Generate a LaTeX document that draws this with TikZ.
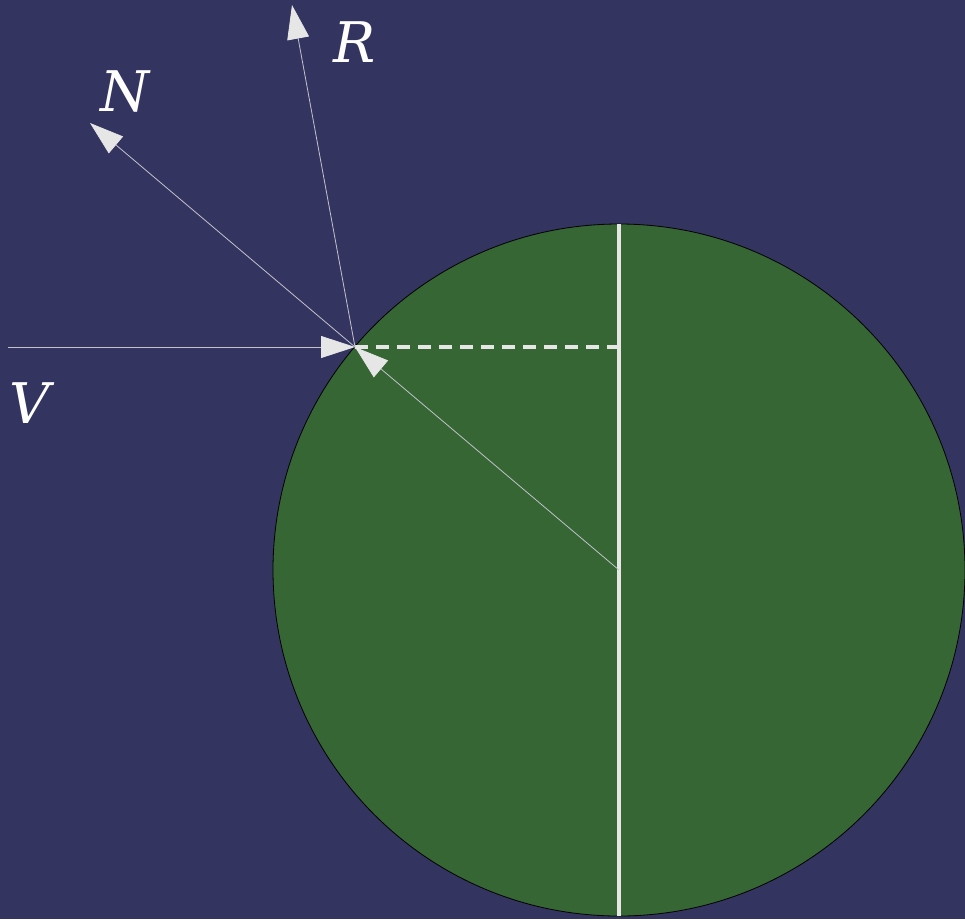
\documentclass[tikz,border=0pt]{standalone}
\usepackage{fontspec}
\newfontfamily\lblfont{DejaVu Serif}
\usetikzlibrary{arrows.meta}
\definecolor{bgblue}{RGB}{52,52,97}
\definecolor{ballgreen}{RGB}{53,102,52}
\definecolor{raygray}{RGB}{230,230,230}

\begin{document}
\begin{tikzpicture}[
        x=1pt, y=-1pt,
        ray/.style={
            draw=raygray!80!bgblue, line width=0.8pt,
            -{Triangle[length=34pt, width=22pt, color=raygray]}
        },
        axis/.style={draw=raygray, line width=3.4pt},
        lbl/.style={text=white, inner sep=0pt,
            font=\lblfont\itshape\fontsize{56}{56}\selectfont}
    ]

    % background and bounding box
    \fill [bgblue] (0,0) rectangle (965,919);
    \clip (0,0) rectangle (965,919);

    \coordinate (center) at (619,570);
    \coordinate (hit) at (355,347);
    \coordinate (vstart) at (8,347);
    \coordinate (ntip) at (90,123);
    \coordinate (rtip) at (292,5);
    \coordinate (top) at (619,224);
    \coordinate (bottom) at (619,916);
    \coordinate (foot) at (619,347);

    % sphere
    \filldraw [fill=ballgreen, draw=black, line width=0.8pt] (center) circle (346);

    \draw [axis] (top) -- (bottom);
    \draw [axis, dash pattern=on 13pt off 8pt] (hit) -- (foot);

    % rays
    \draw [ray] (vstart) -- (hit);
    \draw [ray] (center) -- (hit);
    \draw [ray] (hit) -- (ntip);
    \draw [ray] (hit) -- (rtip);

    \node [lbl] (rlabel) at (355,42) {R};
    \node [lbl] (nlabel) at (125,91) {N};
    \node [lbl] (vlabel) at (30,403) {V};

\end{tikzpicture}
\end{document}
